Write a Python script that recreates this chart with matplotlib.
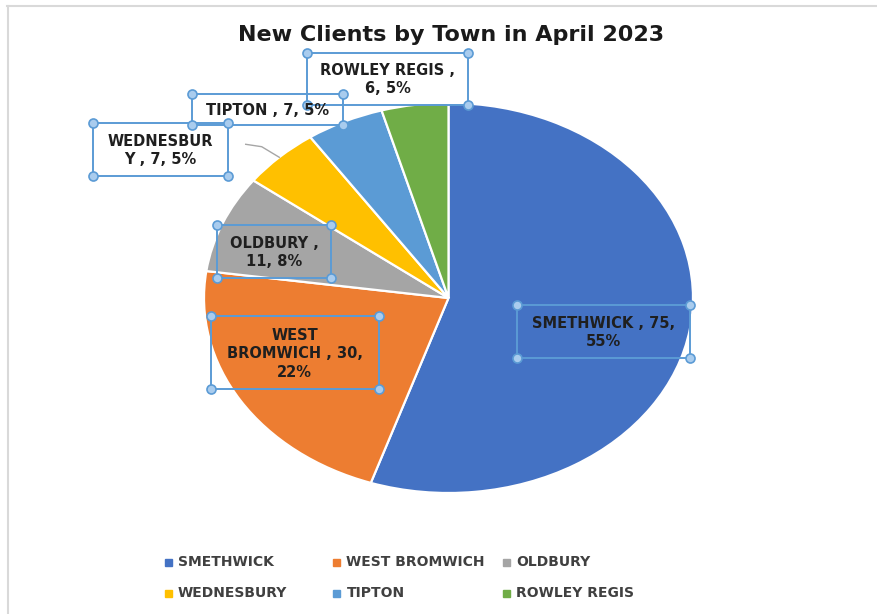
import matplotlib
matplotlib.use("Agg")
import matplotlib.pyplot as plt
from matplotlib.lines import Line2D
from matplotlib.patches import Rectangle

# ---- data ----
towns = ["SMETHWICK", "WEST BROMWICH", "OLDBURY", "WEDNESBURY", "TIPTON", "ROWLEY REGIS"]
clients = [75, 30, 11, 7, 7, 6]
pct_labels = ["55%", "22%", "8%", "5%", "5%", "5%"]
title = "New Clients by Town in April 2023"

colors = ["#4472C4", "#ED7D31", "#A5A5A5", "#FFC000", "#5B9BD5", "#70AD47"]

W, H = 877, 614
fig = plt.figure(figsize=(W / 100, H / 100), dpi=100)
plt.rcParams['font.family'] = ['DejaVu Sans']


def fx(x):
    return x / W


def fy(y):
    return 1 - y / H


# chart border (top and left visible)
fig.add_artist(Line2D([fx(7), fx(877)], [fy(5.5), fy(5.5)], transform=fig.transFigure,
                      color="#d9d9d9", lw=1.5))
fig.add_artist(Line2D([fx(7.5), fx(7.5)], [fy(5.5), fy(614)], transform=fig.transFigure,
                      color="#d9d9d9", lw=1.5))

# pie (elliptical, as in reference)
cx, cy, rx, ry = 448.5, 298, 244.5, 195
ax = fig.add_axes([fx(cx - rx), fy(cy + ry), 2 * rx / W, 2 * ry / H])
wedges, _ = ax.pie(clients, colors=colors, startangle=90, counterclock=False, radius=1,
                   wedgeprops=dict(edgecolor="white", linewidth=1.6))
for w in wedges:
    w.set_clip_on(False)
ax.set_xlim(-1, 1)
ax.set_ylim(-1, 1)
ax.set_aspect('auto')
ax.axis('off')

# title
fig.text(fx(451), fy(35), title, ha="center", va="center", fontsize=16,
         fontweight="bold", color="#1a1a1a")


# data labels
def split_label(s, breaks):
    out, prev = [], 0
    for b in breaks:
        out.append(s[prev:b].strip())
        prev = b
    out.append(s[prev:].strip())
    return "\n".join(out)


full = [f"{t} , {v}, {p}" for t, v, p in zip(towns, clients, pct_labels)]
breaks = [[15], [4, 19], [9], [9], [], [14]]
label_texts = [split_label(s, b) for s, b in zip(full, breaks)]

# label boxes (x0, y0, x1, y1) in pixels
boxes = [(517.3, 305, 690, 357.7),
         (210.7, 316, 379, 389.3),
         (217.3, 225, 330.7, 277.7),
         (93.3, 122.7, 227.7, 176),
         (191.7, 94.3, 342.7, 124.5),
         (306.7, 52.7, 468.3, 104.5)]

# leader line for WEDNESBURY
fig.add_artist(Line2D([fx(245.7), fx(261.7), fx(279.3)], [fy(144.3), fy(146.7), fy(157.3)],
                      transform=fig.transFigure, color="#a6a6a6", lw=1))

for txt, (x0, y0, x1, y1) in zip(label_texts, boxes):
    fig.text(fx((x0 + x1) / 2), fy((y0 + y1) / 2 + 1), txt, ha="center", va="center",
             fontsize=10.5, fontweight="bold", color="#1f1f1f", linespacing=1.3)

for (x0, y0, x1, y1) in boxes:
    fig.add_artist(Rectangle((fx(x0), fy(y1)), (x1 - x0) / W, (y1 - y0) / H,
                             transform=fig.transFigure, fill=False,
                             edgecolor="#5B9BD5", lw=1.4))
for (x0, y0, x1, y1) in boxes:
    fig.add_artist(Line2D([fx(x0), fx(x1), fx(x0), fx(x1)], [fy(y0), fy(y0), fy(y1), fy(y1)],
                          transform=fig.transFigure, ls="none", marker="o", markersize=6.5,
                          markerfacecolor="#A9CCEE", markeredgecolor="#5B9BD5",
                          markeredgewidth=1.2))

# legend (3 columns x 2 rows)
col_x = [168, 336.5, 506]
row_y = [562, 593]
for i, (t, c) in enumerate(zip(towns, colors)):
    x = col_x[i % 3]
    y = row_y[i // 3]
    fig.add_artist(Rectangle((fx(x - 3.5), fy(y + 3.5)), 7 / W, 7 / H,
                             transform=fig.transFigure, color=c))
    fig.text(fx(x + 10), fy(y), t, ha="left", va="center", fontsize=10,
             fontweight="bold", color="#404040")

fig.savefig("out.png", dpi=100)
